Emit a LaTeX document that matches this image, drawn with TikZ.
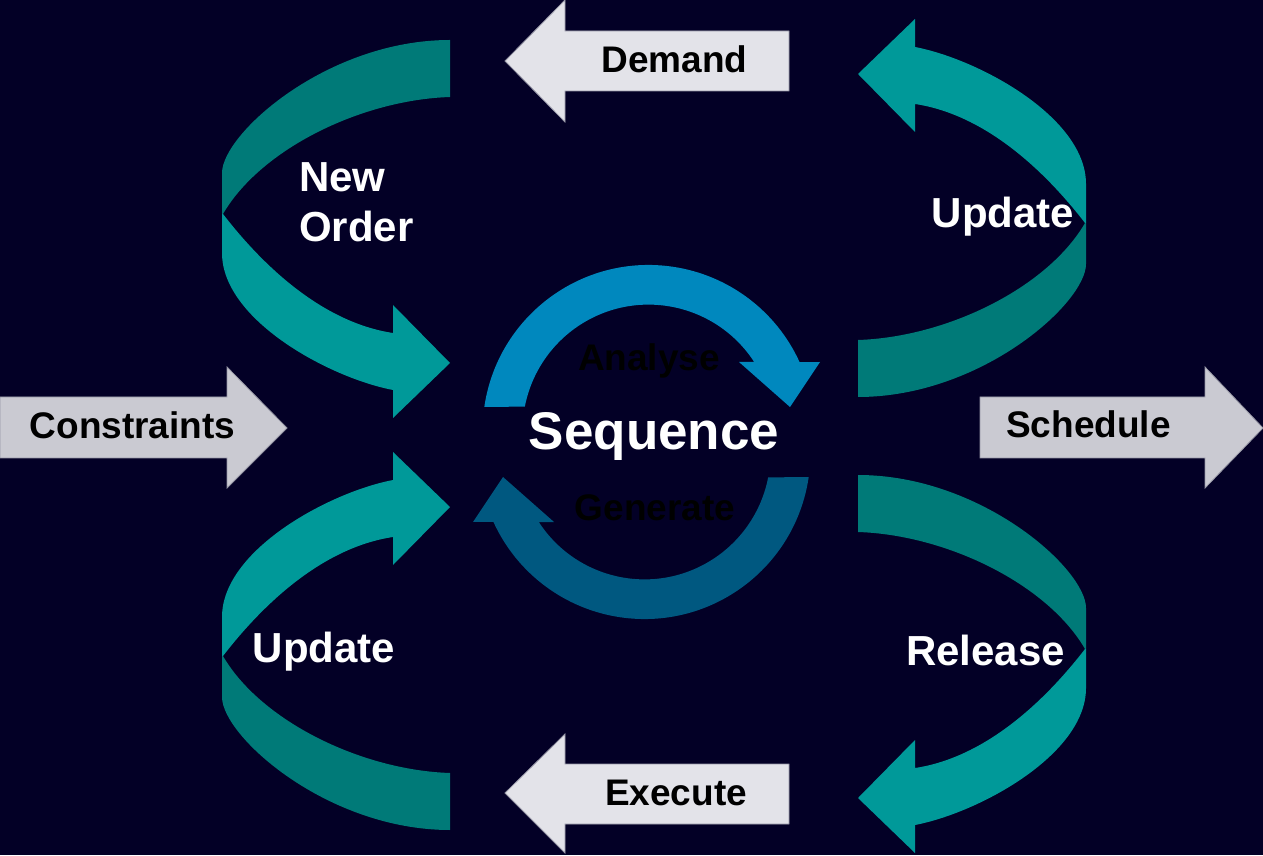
\documentclass[tikz,border=0pt]{standalone}
\usepackage{fontspec}
\setmainfont{Liberation Sans}

\definecolor{bgnavy}{RGB}{3,0,38}
\definecolor{tealdark}{RGB}{0,122,120}
\definecolor{teallight}{RGB}{0,153,153}
\definecolor{bluetop}{RGB}{0,136,190}
\definecolor{bluebottom}{RGB}{0,88,128}
\definecolor{graylight}{RGB}{227,227,233}
\definecolor{graymid}{RGB}{202,202,210}
\definecolor{grayedge}{RGB}{150,150,165}

\tikzset{
  ribbonback/.style={fill=tealdark},
  ribbonfront/.style={fill=teallight},
  pointer/.style={fill=#1, draw=grayedge, line width=0.8pt, line join=miter},
  looplabel/.style={font=\bfseries\fontsize{42}{46}\selectfont, text=white, inner sep=0pt, anchor=base},
  boxlabel/.style={font=\bfseries\fontsize{37}{41}\selectfont, text=black, inner sep=0pt, anchor=base},
  cyclelabel/.style={font=\bfseries\fontsize{37}{41}\selectfont, text=black, inner sep=0pt, anchor=base},
}

% one twisted ribbon arrow: dark back half at the tail, light front half with the head
\newcommand\twistarrow{%
  \fill[ribbonback] (450,815) .. controls (327,815) and (222,721) .. (222,682)
    -- (222,641) -- (223,641) .. controls (260,705) and (360,755) .. (450,758) -- cycle;
  \fill[ribbonfront] (222,641) -- (222,602) .. controls (222,535) and (330,477) .. (393,465)
    -- (393,437) -- (450,492) -- (393,550) -- (393,522)
    .. controls (320,533) and (260,593) .. (223,641) -- cycle;
}

% one half of the central cycle: ring segment with its head
\newcommand\cyclearc[1]{%
  \fill[#1] (484.3,448) arc[start angle=171.7, end angle=24.5, radius=166]
    -- (820,493) -- (790,448) -- (739,493) -- (754.2,493)
    arc[start angle=33, end angle=169, radius=126] -- cycle;
}

\begin{document}
\begin{tikzpicture}[x=1pt,y=1pt]
  \fill[bgnavy] (0,0) rectangle (1263,855);
  \useasboundingbox (0,0) rectangle (1263,855);

  % four twisted loop arrows
  \begin{scope}
    \twistarrow
  \end{scope}
  \begin{scope}[shift={(0,840)}, yscale=-1]
    \twistarrow
  \end{scope}
  \begin{scope}[shift={(1308,1273)}, xscale=-1, yscale=-1]
    \twistarrow
  \end{scope}
  \begin{scope}[shift={(1308,-435)}, xscale=-1]
    \twistarrow
  \end{scope}

  % central cycle
  \cyclearc{bluetop}
  \begin{scope}[rotate around={180:(646.5,413)}]
    \cyclearc{bluebottom}
  \end{scope}

  % grey block arrows
  \filldraw[pointer=graylight] (505,794) -- (565,855) -- (565,824) -- (789,824)
    -- (789,764) -- (565,764) -- (565,733) -- cycle;
  \filldraw[pointer=graylight] (505,62) -- (565,121) -- (565,91) -- (789,91)
    -- (789,31) -- (565,31) -- (565,2) -- cycle;
  \filldraw[pointer=graymid] (0,458) -- (227,458) -- (227,488) -- (287,427)
    -- (227,367) -- (227,397) -- (0,397) -- cycle;
  \filldraw[pointer=graymid] (980,458) -- (1205,458) -- (1205,488) -- (1263,427)
    -- (1205,367) -- (1205,397) -- (980,397) -- cycle;

  % labels
  \node[boxlabel] (demand) at (674.5,782) {Demand};
  \node[boxlabel] (execute) at (676,50) {Execute};
  \node[boxlabel] (constraints) at (132.5,416) {Constraints};
  \node[boxlabel] (schedule) at (1088.5,417) {Schedule};

  \node[looplabel, anchor=base west] (new) at (299,663) {New};
  \node[looplabel, anchor=base west] (order) at (299,613) {Order};
  \node[looplabel] (updatetop) at (1003,627) {Update};
  \node[looplabel] (updatebottom) at (324,193) {Update};
  \node[looplabel] (release) at (985.5,190) {Release};

  \node[font=\bfseries\fontsize{53}{58}\selectfont, text=white, inner sep=0pt, anchor=base]
    (sequence) at (654,405) {Sequence};
  \node[cyclelabel] (analyse) at (649,484) {Analyse};
  \node[cyclelabel] (generate) at (655,335) {Generate};
\end{tikzpicture}
\end{document}
